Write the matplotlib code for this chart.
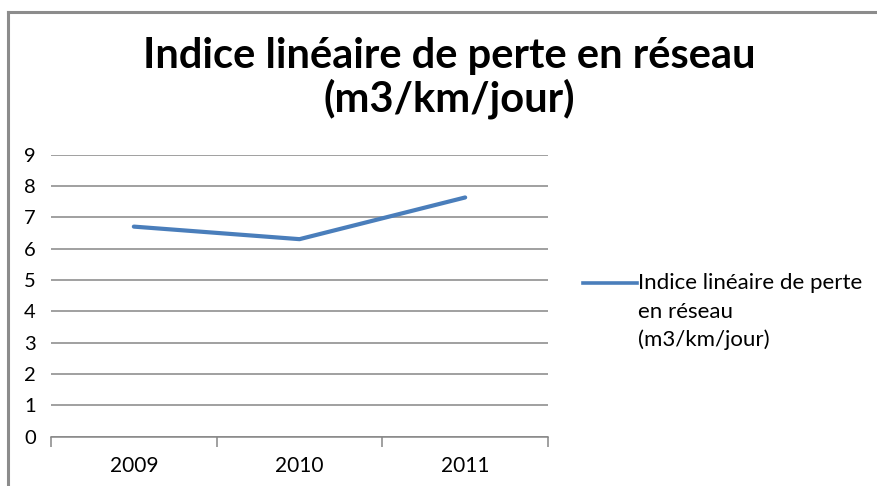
import matplotlib.pyplot as plt
from matplotlib.lines import Line2D

# Données
annees = ["2009", "2010", "2011"]
indice = [6.70, 6.30, 7.63]
titre = "Indice linéaire de perte en réseau\n(m3/km/jour)"
legende = ["Indice linéaire de perte", "en réseau", "(m3/km/jour)"]

plt.rcParams['font.family'] = ['Lato', 'DejaVu Sans']

W, H = 877, 486
fig = plt.figure(figsize=(W / 100, H / 100), dpi=100)

# Cadre du graphique (coupé à droite et en bas)
fig.add_artist(Line2D([8 / W, 8 / W], [0, 1 - 12 / H], color='#8c8c8c', lw=2.2))
fig.add_artist(Line2D([8 / W, 1], [1 - 12 / H, 1 - 12 / H], color='#8c8c8c', lw=2.2))

# Zone de tracé
x0, x1 = 51, 548
y0, y9 = 436.7, 154.5
ax = fig.add_axes([x0 / W, 1 - y0 / H, (x1 - x0) / W, (y0 - y9) / H])

x = range(len(annees))
ax.plot(x, indice, color='#4a7ebb', lw=3.0, solid_capstyle='round', zorder=3)

ax.set_xlim(-0.5, len(annees) - 0.5)
ax.set_ylim(0, 9)
ax.set_yticks(range(0, 10))
ax.yaxis.grid(True, color='#868686', lw=1.1)
ax.set_axisbelow(True)
ax.tick_params(axis='y', length=0, pad=11, labelsize=14.5)

ax.set_xticks(x)
ax.set_xticklabels(annees)
ax.set_xticks([i - 0.5 for i in range(len(annees) + 1)], minor=True)
ax.tick_params(axis='x', which='major', length=0, pad=14, labelsize=15)
ax.tick_params(axis='x', which='minor', length=7, width=1.1, color='#868686', direction='out')

for s in ['left', 'right', 'top']:
    ax.spines[s].set_visible(False)
ax.spines['bottom'].set_color('#868686')
ax.spines['bottom'].set_linewidth(1.1)

# Titre
fig.text(449 / W, 1 - 78 / H, titre, ha='center', va='center', fontsize=30,
         fontweight='bold', linespacing=1.1)

# Légende
ly = 1 - 283 / H
fig.add_artist(Line2D([583 / W, 637 / W], [ly, ly], color='#4a7ebb', lw=2.6))
for i, t in enumerate(legende):
    fig.text(638 / W, 1 - (283 + 28.5 * i) / H, t, ha='left', va='center', fontsize=16)

fig.savefig("out.png", dpi=100)
